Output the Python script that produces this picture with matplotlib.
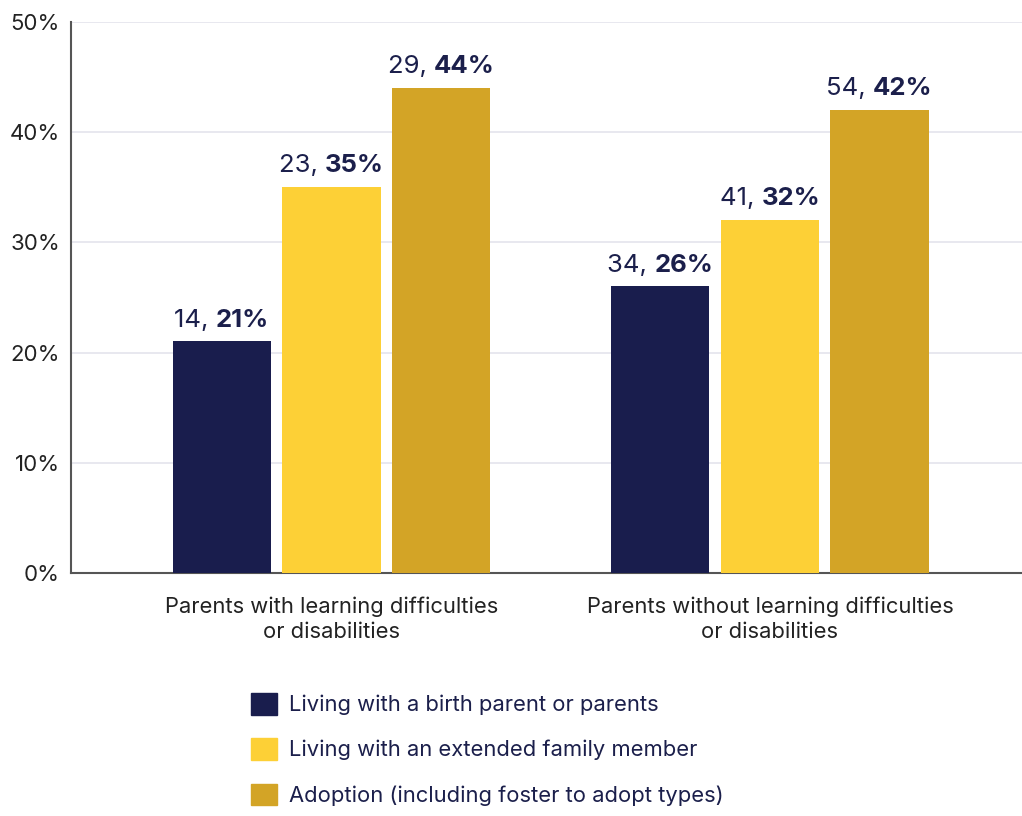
import matplotlib.pyplot as plt
import numpy as np
from matplotlib.patches import Patch

groups = ['Parents with learning difficulties\nor disabilities',
          'Parents without learning difficulties\nor disabilities']
series = ['Living with a birth parent or parents',
          'Living with an extended family member',
          'Adoption (including foster to adopt types)']
counts = [[14, 34], [23, 41], [29, 54]]
percents = [[21, 26], [35, 32], [44, 42]]
colours = ['#191d4d', '#fdd036', '#d3a426']

navy = '#1b1f4b'
plt.rcParams['font.family'] = ['Inter', 'DejaVu Sans']

fig = plt.figure(figsize=(10.22, 8.16), dpi=100)
ax = fig.add_axes([0.0695, 0.298, 0.9305, 0.675])

x = np.arange(len(groups))
width = 0.224
step = 0.25

labels = []
for i in range(len(series)):
    pos = x + (i - 1) * step
    ax.bar(pos, percents[i], width, color=colours[i], zorder=3)
    for px, c, p in zip(pos, counts[i], percents[i]):
        t1 = ax.text(px, p + 0.9, f'{c}, ', ha='left', va='bottom',
                     fontsize=18.5, color=navy)
        t2 = ax.text(px, p + 0.9, f'{p}%', ha='left', va='bottom',
                     fontsize=18.5, color=navy, fontweight='bold')
        labels.append((px, t1, t2))

ax.set_xlim(-0.594, 1.575)
ax.set_ylim(0, 50)
ax.set_yticks(range(0, 51, 10))
ax.set_yticklabels([f'{v}%' for v in range(0, 51, 10)], fontsize=16, color='#222222')
ax.set_xticks(x)
ax.set_xticklabels(groups, fontsize=15.8, color='#222222', linespacing=1.3)
ax.tick_params(axis='both', length=0, pad=8)
ax.tick_params(axis='x', pad=17)
ax.grid(axis='y', color='#e4e4ec', linewidth=1.2, zorder=0)
for s in ['top', 'right']:
    ax.spines[s].set_visible(False)
for s in ['left', 'bottom']:
    ax.spines[s].set_color('#555555')
    ax.spines[s].set_linewidth(1.5)

# centre each two-part label over its bar
fig.canvas.draw()
r = fig.canvas.get_renderer()
inv = ax.transData.inverted()
for px, t1, t2 in labels:
    w1 = t1.get_window_extent(r).width
    w2 = t2.get_window_extent(r).width
    cx = ax.transData.transform((px, 0))[0]
    left = cx - (w1 + w2) / 2
    t1.set_x(inv.transform((left, 0))[0])
    t2.set_x(inv.transform((left + w1, 0))[0])

handles = [Patch(color=c) for c in colours]
leg = fig.legend(handles, series, loc='upper left', bbox_to_anchor=(0.246, 0.151),
                 frameon=False, fontsize=15.8, handlelength=1.15, handleheight=1.15,
                 handletextpad=0.55, labelspacing=1.05, borderaxespad=0,
                 borderpad=0)
for t in leg.get_texts():
    t.set_color(navy)

fig.savefig('out.png')
